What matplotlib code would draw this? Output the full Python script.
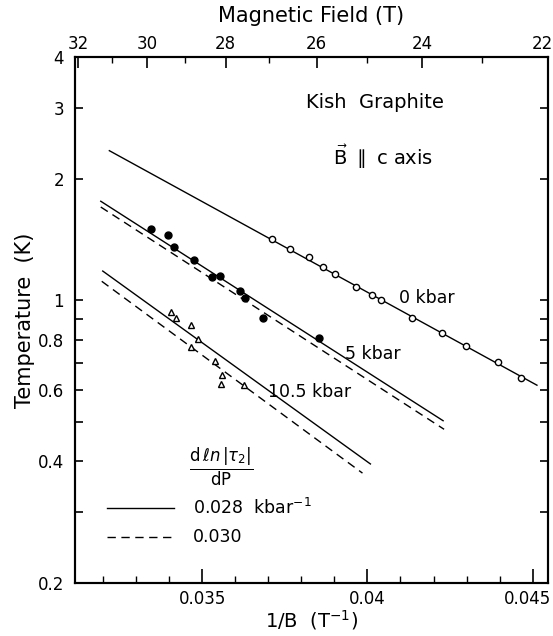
import matplotlib
matplotlib.use('Agg')
import matplotlib.pyplot as plt
import matplotlib.transforms as mtransforms
from matplotlib.ticker import FixedLocator, NullFormatter

plt.rcParams["font.size"] = 12

# data: 1/B (T^-1) and temperature (K)
invB_0kbar = [0.03710, 0.03765, 0.03824, 0.03866, 0.03903, 0.03965, 0.04015,
              0.04040, 0.04136, 0.04227, 0.04297, 0.04394, 0.04464]
T_0kbar = [1.416, 1.340, 1.278, 1.211, 1.162, 1.081, 1.030,
           1.002, 0.905, 0.832, 0.773, 0.703, 0.643]
invB_5kbar = [0.03345, 0.03396, 0.03415, 0.03475, 0.03531, 0.03555, 0.03613,
              0.03628, 0.03684, 0.03854]
T_5kbar = [1.499, 1.449, 1.357, 1.262, 1.141, 1.147, 1.058, 1.015, 0.906, 0.809]
invB_10kbar = [0.03405, 0.03421, 0.03467, 0.03486, 0.03467, 0.03538, 0.03559,
               0.03557, 0.03626]
T_10kbar = [0.935, 0.903, 0.868, 0.801, 0.767, 0.709, 0.654, 0.621, 0.618]

# fitted lines (end points), solid = 0.028 kbar^-1, dashed = 0.030
fit0_x = [0.03219, 0.04513]
fit0_T = [2.346, 0.617]
fit5_solid_x = [0.03193, 0.04229]
fit5_solid_T = [1.759, 0.504]
fit5_dash_x = [0.03193, 0.04232]
fit5_dash_T = [1.702, 0.480]
fit10_solid_x = [0.03199, 0.04009]
fit10_solid_T = [1.182, 0.394]
fit10_dash_x = [0.03196, 0.03985]
fit10_dash_T = [1.115, 0.374]

fields = [32, 30, 28, 26, 24, 22]
fields_minor = [31, 29, 27, 25, 23]
yticks = [0.2, 0.4, 0.6, 0.8, 1, 2, 3, 4]
yticklabels = ['0.2', '0.4', '0.6', '0.8', '1', '2', '3', '4']
yminor = [0.3, 0.5, 0.7, 0.9]

fig = plt.figure(figsize=(5.53, 6.36), dpi=100)
ax = fig.add_axes([0.1356, 0.0833, 0.9901 - 0.1356, 0.9104 - 0.0833])

lw = 1.0
dash = (0, (6, 4))
ax.plot(fit0_x, fit0_T, 'k-', lw=lw)
ax.plot(fit5_solid_x, fit5_solid_T, 'k-', lw=lw)
ax.plot(fit5_dash_x, fit5_dash_T, 'k', ls=dash, lw=lw)
ax.plot(fit10_solid_x, fit10_solid_T, 'k-', lw=lw)
ax.plot(fit10_dash_x, fit10_dash_T, 'k', ls=dash, lw=lw)

ax.plot(invB_0kbar, T_0kbar, 'o', mfc='white', mec='k', ms=4.5, mew=1.0)
ax.plot(invB_5kbar, T_5kbar, 'o', mfc='k', mec='k', ms=5)
ax.plot(invB_10kbar, T_10kbar, '^', mfc='white', mec='k', ms=5, mew=1.0)

ax.set_yscale('log')
ax.set_xlim(0.03115, 0.04545)
ax.set_ylim(0.2, 4)

ax.set_xticks([0.035, 0.04, 0.045])
ax.set_xticklabels(['0.035', '0.04', '0.045'])
ax.xaxis.set_minor_locator(FixedLocator([0.032, 0.033, 0.034, 0.036, 0.037, 0.038,
                                         0.039, 0.041, 0.042, 0.043, 0.044]))
ax.yaxis.set_major_locator(FixedLocator(yticks))
ax.set_yticklabels(yticklabels)
ax.yaxis.set_minor_locator(FixedLocator(yminor))
ax.yaxis.set_minor_formatter(NullFormatter())

ax.tick_params(axis='x', which='major', direction='in', length=10, width=1.2, labelsize=12, pad=5)
ax.tick_params(axis='x', which='minor', direction='in', length=5, width=1.0)
ax.tick_params(axis='y', which='both', direction='in', length=5.5, width=1.2,
               right=True, labelsize=12, pad=8)
for s in ax.spines.values():
    s.set_linewidth(1.5)

ax.set_xlabel(r'1/B  (T$^{-1}$)', fontsize=14, labelpad=0)
ax.set_ylabel('Temperature  (K)', fontsize=15, labelpad=2)

# top axis in field units
ax2 = ax.twiny()
ax2.set_xlim(ax.get_xlim())
ax2.set_xticks([1.0 / b for b in fields])
ax2.set_xticklabels([str(b) for b in fields])
ax2.xaxis.set_minor_locator(FixedLocator([1.0 / b for b in fields_minor]))
ax2.tick_params(axis='x', which='major', direction='in', length=8, width=1.2, labelsize=12, pad=3)
ax2.tick_params(axis='x', which='minor', direction='in', length=4.5, width=1.0)
ax2.set_xlabel('Magnetic Field (T)', fontsize=15, labelpad=9)
for s in ax2.spines.values():
    s.set_linewidth(1.5)

# pull the last labels in a little so they stay on the page
shift = mtransforms.ScaledTranslation(-5 / 100.0, 0, fig.dpi_scale_trans)
lab = ax.get_xticklabels()[-1]
lab.set_transform(lab.get_transform() + shift)
lab = ax2.get_xticklabels()[-1]
lab.set_transform(lab.get_transform() + shift)

def px(xp, yp):
    # figure pixel position -> figure fraction
    return xp / 553.0, 1 - yp / 636.0

fig.text(*px(306, 103), 'Kish  Graphite', fontsize=14, va='center', ha='left')
fig.text(*px(333, 157), r'$\vec{\mathsf{B}}$ $\parallel$ c axis', fontsize=14, va='center', ha='left')
fig.text(*px(427, 298), '0 kbar', fontsize=12.5, va='center', ha='center')
fig.text(*px(373, 354), '5 kbar', fontsize=12.5, va='center', ha='center')
fig.text(*px(310, 392), '10.5 kbar', fontsize=12.5, va='center', ha='center')

fig.text(*px(189, 467), r'$\frac{\mathrm{d}\,\ell n\,|\tau_2|}{\mathrm{d P}}$', fontsize=17, va='center', ha='left')
fig.add_artist(plt.Line2D([107 / 553, 174 / 553], [1 - 508 / 636, 1 - 508 / 636], color='k', lw=lw))
fig.add_artist(plt.Line2D([107 / 553, 174 / 553], [1 - 537 / 636, 1 - 537 / 636], color='k', lw=lw, ls=dash))
fig.text(*px(193, 508), r'0.028  kbar$^{-1}$', fontsize=12.5, va='center', ha='left')
fig.text(*px(193, 537), '0.030', fontsize=12.5, va='center', ha='left')

fig.savefig('out.png', dpi=100)
